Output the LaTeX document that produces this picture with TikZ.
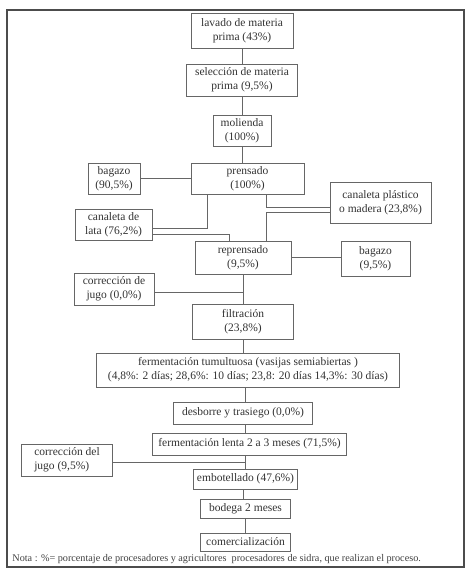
\documentclass[tikz,border=0pt]{standalone}
\usepackage{fontspec}
\setmainfont{Liberation Serif}
\usepackage{xcolor}
\usepackage{tikz}

\begin{document}
\begin{tikzpicture}[x=1pt,y=1pt,thick,
   caja/.style={draw=black!60,line width=0.8pt,fill=white,align=center,inner sep=2pt,
     text=black!80,font=\fontsize{11.5}{14}\selectfont},
   linea/.style={draw=black!60,line width=0.8pt},
   marco/.style={draw=black!70,line width=1.4pt}]

  \useasboundingbox (0,0) rectangle (474,-573);
  \draw[marco] (7,-10) rectangle (464,-567);

  \node[caja,minimum width=102pt,minimum height=35pt](lavado) at (242,-31) {lavado de materia\\prima (43\%)};
  \node[caja,minimum width=111pt,minimum height=32pt,node distance=49pt](seleccion) [below of=lavado] {selección de materia\\prima (9,5\%)};
  \node[caja,minimum width=58pt,minimum height=31pt,node distance=50.5pt](molienda) [below of=seleccion] {molienda\\(100\%)};
  \node[caja,minimum width=113pt,minimum height=31pt,node distance=48pt,xshift=5.5pt](prensado) [below of=molienda] {prensado\\(100\%)};
  \node[caja,minimum width=52pt,minimum height=31pt,node distance=133.5pt](bagazoa) [left of=prensado] {bagazo\\(90,5\%)};
  \node[caja,minimum width=101pt,minimum height=41pt,node distance=133pt,yshift=-24pt](plastico) [right of=prensado] {canaleta plástico\\o madera (23,8\%)};
  \node[caja,minimum width=77pt,minimum height=31pt,node distance=134pt,yshift=-46pt](lata) [left of=prensado] {canaleta de\\lata (76,2\%)};
  \node[caja,minimum width=96pt,minimum height=33pt,node distance=79pt,xshift=-4.5pt](reprensado) [below of=prensado] {reprensado\\(9,5\%)};
  \node[caja,minimum width=69pt,minimum height=35pt,node distance=132.5pt,yshift=-1pt](bagazob) [right of=reprensado] {bagazo\\(9,5\%)};
  \node[caja,minimum width=80pt,minimum height=32pt,node distance=129pt,yshift=-31.5pt](correcciona) [left of=reprensado] {corrección de\\jugo (0,0\%)};
  \node[caja,minimum width=101pt,minimum height=35pt,node distance=64pt](filtracion) [below of=reprensado] {filtración\\(23,8\%)};
  \node[caja,minimum width=303pt,minimum height=34pt,node distance=48.5pt,xshift=5pt](tumultuosa) [below of=filtracion] {fermentación tumultuosa (vasijas semiabiertas )\\(4,8\%: 2 días; 28,6\%: 10 días; 23,8: 20 días 14,3\%: 30 días)};
  \node[caja,minimum width=139pt,minimum height=22pt,node distance=43pt,xshift=-5pt](desborre) [below of=tumultuosa] {desborre y trasiego (0,0\%)};
  \node[caja,minimum width=194pt,minimum height=22pt,node distance=31pt,xshift=6.5pt](lenta) [below of=desborre] {fermentación lenta 2 a 3 meses (71,5\%)};
  \node[caja,minimum width=104pt,minimum height=20pt,node distance=35pt,xshift=-4pt](embotellado) [below of=lenta] {embotellado (47,6\%)};
  \node[caja,minimum width=91pt,minimum height=32pt,node distance=178.5pt,yshift=19pt,align=left](correccionb) [left of=embotellado] {corrección del\\jugo (9,5\%)};
  \node[caja,minimum width=90pt,minimum height=19pt,node distance=29.5pt](bodega) [below of=embotellado] {bodega 2 meses};
  \node[caja,minimum width=90pt,minimum height=18pt,node distance=33.5pt](comercial) [below of=bodega] {comercialización};
  \node[anchor=west,inner sep=0pt,text=black!75,font=\fontsize{10.2}{12}\selectfont](nota) at (12,-559)
    {Nota : \%= porcentaje de procesadores y agricultores\ \ procesadores de sidra, que realizan el proceso.};

  % linea central
  \draw[linea] (lavado.south) -- (lavado.south |- seleccion.north);
  \draw[linea] (seleccion.south) -- (seleccion.south |- molienda.north);
  \draw[linea] (molienda.south) -- (molienda.south |- prensado.north);
  \draw[linea] (bagazoa.east) -- (bagazoa.east -| prensado.west);
  \draw[linea] ([xshift=-40pt]prensado.south) |- ([yshift=-3.5pt]lata.east);
  \draw[linea] ([yshift=-9.5pt]lata.east) -| ([xshift=-14pt]reprensado.north);
  \draw[linea] ([xshift=18.5pt]prensado.south) |- ([yshift=-4.5pt]plastico.west);
  \draw[linea] ([yshift=-9.5pt]plastico.west) -| ([xshift=23pt]reprensado.north);
  \draw[linea] (reprensado.east) -- (reprensado.east -| bagazob.west);
  \draw[linea] (reprensado.south) -- (reprensado.south |- filtracion.north);
  \draw[linea] ([yshift=-3pt]correcciona.east) -| (reprensado.south);
  \draw[linea] (filtracion.south) -- (filtracion.south |- tumultuosa.north);
  \draw[linea] ([xshift=2.5pt]desborre.north) -- ([xshift=2.5pt]desborre.north |- tumultuosa.south);
  \draw[linea] ([xshift=2.5pt]desborre.south) -- ([xshift=2.5pt]desborre.south |- lenta.north);
  \draw[linea] (embotellado.north) -- (embotellado.north |- lenta.south);
  \draw[linea] ([yshift=-2pt]correccionb.east) -| (embotellado.north);
  \draw[linea] ([xshift=-2pt]embotellado.south) -- ([xshift=-2pt]embotellado.south |- bodega.north);
  \draw[linea] (bodega.south) -- (bodega.south |- comercial.north);
\end{tikzpicture}
\end{document}
